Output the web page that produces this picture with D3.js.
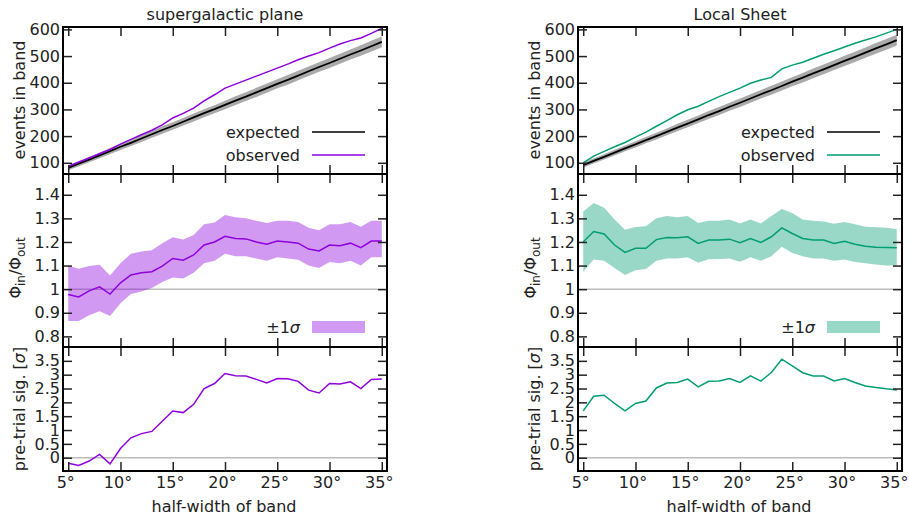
<!DOCTYPE html>
<html>
<head>
<meta charset="utf-8">
<script src="https://cdn.jsdelivr.net/npm/d3@7"></script>
<style>
  body { margin: 0; background: #fff; }
  text { font-family: "DejaVu Sans", sans-serif; fill: #222; }
</style>
</head>
<body>
<svg id="chart" width="909" height="523"></svg>
<script>
// half-width of band (degrees)
const halfWidth = [5, 6, 7, 8, 9, 10, 11, 12, 13, 14, 15, 16, 17, 18, 19, 20, 21, 22, 23, 24, 25, 26, 27, 28, 29, 30, 31, 32, 33, 34, 35];

// supergalactic plane
const sgExpected = [81, 97, 112, 128, 144, 160, 175, 191, 207, 223, 238, 254, 270, 286, 301, 317, 333, 348, 364, 380, 396, 411, 427, 443, 459, 474, 490, 506, 521, 537, 553];
const sgObserved = [87, 102, 118, 134, 150, 170, 188, 205, 222, 242, 268, 285, 305, 332, 355, 380, 395, 410, 425, 440, 455, 470, 486, 500, 513, 530, 545, 558, 568, 585, 604];
const sgRatio = [0.977, 0.967, 0.993, 1.010, 0.979, 1.027, 1.060, 1.070, 1.074, 1.098, 1.130, 1.123, 1.145, 1.187, 1.200, 1.224, 1.215, 1.213, 1.200, 1.190, 1.204, 1.200, 1.195, 1.170, 1.162, 1.187, 1.184, 1.195, 1.176, 1.204, 1.204];
const sgRatioHi = [1.099, 1.087, 1.098, 1.103, 1.058, 1.110, 1.150, 1.160, 1.165, 1.195, 1.220, 1.210, 1.230, 1.275, 1.283, 1.314, 1.305, 1.300, 1.290, 1.280, 1.290, 1.290, 1.285, 1.260, 1.250, 1.275, 1.275, 1.285, 1.265, 1.290, 1.290];
const sgRatioLo = [0.865, 0.865, 0.889, 0.907, 0.886, 0.940, 0.980, 0.990, 1.005, 1.030, 1.050, 1.045, 1.070, 1.110, 1.120, 1.150, 1.140, 1.140, 1.130, 1.120, 1.135, 1.130, 1.125, 1.100, 1.090, 1.115, 1.110, 1.120, 1.100, 1.135, 1.135];
const sgSignif = [-0.20, -0.28, -0.12, 0.12, -0.22, 0.33, 0.72, 0.87, 0.95, 1.32, 1.69, 1.63, 1.93, 2.50, 2.68, 3.04, 2.96, 2.95, 2.83, 2.70, 2.86, 2.85, 2.76, 2.44, 2.34, 2.68, 2.66, 2.74, 2.50, 2.83, 2.84];

// Local Sheet
const lsExpected = [91, 107, 122, 138, 154, 169, 185, 200, 216, 232, 247, 263, 279, 294, 310, 325, 341, 357, 372, 388, 404, 419, 435, 450, 466, 482, 497, 513, 529, 544, 560];
const lsObserved = [100, 125, 143, 160, 176, 196, 215, 237, 258, 280, 299, 312, 330, 348, 364, 380, 398, 410, 420, 452, 466, 477, 492, 507, 520, 534, 548, 560, 572, 586, 600];
const lsRatio = [1.200, 1.244, 1.234, 1.187, 1.156, 1.173, 1.173, 1.210, 1.219, 1.218, 1.222, 1.194, 1.208, 1.208, 1.212, 1.197, 1.215, 1.198, 1.222, 1.260, 1.236, 1.215, 1.208, 1.208, 1.194, 1.203, 1.190, 1.182, 1.178, 1.177, 1.175];
const lsRatioHi = [1.329, 1.365, 1.345, 1.295, 1.252, 1.263, 1.267, 1.300, 1.310, 1.305, 1.310, 1.280, 1.290, 1.290, 1.295, 1.278, 1.295, 1.278, 1.310, 1.340, 1.323, 1.295, 1.290, 1.287, 1.277, 1.285, 1.275, 1.265, 1.262, 1.260, 1.255];
const lsRatioLo = [1.074, 1.126, 1.120, 1.090, 1.060, 1.080, 1.085, 1.120, 1.130, 1.130, 1.135, 1.112, 1.127, 1.128, 1.130, 1.116, 1.135, 1.120, 1.140, 1.180, 1.153, 1.140, 1.130, 1.130, 1.120, 1.126, 1.115, 1.110, 1.105, 1.100, 1.100];
const lsSignif = [1.69, 2.22, 2.26, 1.96, 1.69, 1.96, 2.05, 2.52, 2.70, 2.72, 2.84, 2.56, 2.76, 2.77, 2.86, 2.72, 2.96, 2.77, 3.08, 3.56, 3.32, 3.07, 2.95, 2.95, 2.77, 2.86, 2.72, 2.59, 2.54, 2.49, 2.45];

// spread of the expected count (events)
const expectedSpread = [9, 10, 10, 11, 11, 12, 12, 13, 13, 14, 14, 14, 15, 15, 15, 16, 16, 16, 17, 17, 17, 18, 18, 18, 18, 19, 19, 19, 20, 20, 20];

const xTicks = [5, 10, 15, 20, 25, 30, 35];
const countTicks = [100, 200, 300, 400, 500, 600];
const ratioTicks = [0.8, 0.9, 1.0, 1.1, 1.2, 1.3, 1.4];
const signifTicks = [0, 0.5, 1, 1.5, 2, 2.5, 3, 3.5];

const svg = d3.select("#chart");
const plotWidth = 324;
const tickLen = 9;
const fontSize = 16;

const rowTop = { y0: 27, y1: 174 };
const rowMid = { y0: 174, y1: 347 };
const rowBot = { y0: 347, y1: 471 };

let drawColumn = (left, title, color, fill, expected, observed, ratio, ratioHi, ratioLo, signif) => {
  const g = svg.append("g").attr("transform", `translate(${left},0)`);

  const x = d3.scaleLinear().domain([4.5, 35.5]).range([0, plotWidth]);
  const yCount = d3.scaleLinear().domain([58, 609]).range([rowTop.y1, rowTop.y0]);
  const yRatio = d3.scaleLinear().domain([0.755, 1.488]).range([rowMid.y1, rowMid.y0]);
  const ySig = d3.scaleLinear().domain([-0.48, 4.0]).range([rowBot.y1, rowBot.y0]);

  // top: events in band
  g.append("path").
  datum(halfWidth).
  attr("fill", "#aaaaaa").
  attr("d", d3.area().
  x(d => x(d)).
  y0((d, i) => yCount(expected[i] - expectedSpread[i])).
  y1((d, i) => yCount(expected[i] + expectedSpread[i])));

  g.append("path").
  datum(halfWidth).
  attr("fill", "none").
  attr("stroke", "#000").
  attr("stroke-width", 1.8).
  attr("d", d3.line().x(d => x(d)).y((d, i) => yCount(expected[i])));

  g.append("path").
  datum(halfWidth).
  attr("fill", "none").
  attr("stroke", color).
  attr("stroke-width", 1.5).
  attr("d", d3.line().x(d => x(d)).y((d, i) => yCount(observed[i])));

  // middle: flux ratio
  g.append("line").
  attr("x1", 0).attr("x2", plotWidth).
  attr("y1", yRatio(1)).attr("y2", yRatio(1)).
  attr("stroke", "#bbbbbb").attr("stroke-width", 1.5);

  g.append("path").
  datum(halfWidth).
  attr("fill", fill).
  attr("d", d3.area().
  x(d => x(d)).
  y0((d, i) => yRatio(ratioLo[i])).
  y1((d, i) => yRatio(ratioHi[i])));

  g.append("path").
  datum(halfWidth).
  attr("fill", "none").
  attr("stroke", color).
  attr("stroke-width", 1.5).
  attr("d", d3.line().x(d => x(d)).y((d, i) => yRatio(ratio[i])));

  // bottom: significance
  g.append("line").
  attr("x1", 0).attr("x2", plotWidth).
  attr("y1", ySig(0)).attr("y2", ySig(0)).
  attr("stroke", "#bbbbbb").attr("stroke-width", 1.5);

  g.append("path").
  datum(halfWidth).
  attr("fill", "none").
  attr("stroke", color).
  attr("stroke-width", 1.5).
  attr("d", d3.line().x(d => x(d)).y((d, i) => ySig(signif[i])));

  // legends
  const legX = 237;
  const legLine = [249, 302];
  [["expected", "#000", 132], ["observed", color, 155]].forEach(([label, c, ly]) => {
    g.append("text").
    attr("x", legX).attr("y", ly + 6).
    attr("text-anchor", "end").
    attr("font-size", fontSize).
    text(label);
    g.append("line").
    attr("x1", legLine[0]).attr("x2", legLine[1]).
    attr("y1", ly).attr("y2", ly).
    attr("stroke", c).attr("stroke-width", 1.5);
  });

  const sigLeg = g.append("text").
  attr("x", legX).attr("y", 333).
  attr("text-anchor", "end").
  attr("font-size", fontSize);
  sigLeg.append("tspan").text("±1");
  sigLeg.append("tspan").attr("font-style", "italic").text("σ");
  g.append("rect").
  attr("x", legLine[0]).attr("y", 321).
  attr("width", legLine[1] - legLine[0]).attr("height", 12).
  attr("fill", fill);

  // frames, ticks and labels
  const rows = [
  { r: rowTop, y: yCount, ticks: countTicks, fmt: d => d },
  { r: rowMid, y: yRatio, ticks: ratioTicks, fmt: d => d3.format("~g")(d) },
  { r: rowBot, y: ySig, ticks: signifTicks, fmt: d => d3.format("~g")(d) }];


  rows.forEach((row, k) => {
    const left = g.append("g").
    call(d3.axisLeft(row.y).tickValues(row.ticks).tickFormat(row.fmt).tickSize(-tickLen).tickPadding(3));
    const right = g.append("g").
    attr("transform", `translate(${plotWidth},0)`).
    call(d3.axisRight(row.y).tickValues(row.ticks).tickFormat("").tickSize(-tickLen));
    const top = g.append("g").
    attr("transform", `translate(0,${row.r.y0})`).
    call(d3.axisTop(x).tickValues(xTicks).tickFormat("").tickSize(-tickLen));
    const bottom = g.append("g").
    attr("transform", `translate(0,${row.r.y1})`).
    call(d3.axisBottom(x).tickValues(xTicks).tickFormat(k === 2 ? d => d + "°" : "").tickSize(-tickLen).tickPadding(6));

    [left, right, top, bottom].forEach(ax => {
      ax.select(".domain").remove();
      ax.selectAll(".tick line").attr("stroke", "#222").attr("stroke-width", 1.5);
      ax.selectAll(".tick text").
      attr("font-size", fontSize).
      attr("font-family", "DejaVu Sans, sans-serif").
      attr("fill", "#222");
    });
    bottom.selectAll(".tick text").attr("dx", -3);

    g.append("rect").
    attr("x", 0).attr("y", row.r.y0).
    attr("width", plotWidth).attr("height", row.r.y1 - row.r.y0).
    attr("fill", "none").
    attr("stroke", "#000").
    attr("stroke-width", 2);
  });

  // titles
  g.append("text").
  attr("x", plotWidth / 2).attr("y", 20).
  attr("text-anchor", "middle").
  attr("font-size", fontSize).
  text(title);

  g.append("text").
  attr("x", plotWidth / 2 - 1).attr("y", 512).
  attr("text-anchor", "middle").
  attr("font-size", fontSize).
  text("half-width of band");

  // y labels
  const labelX = -44;
  g.append("text").
  attr("transform", `translate(${labelX},100) rotate(-90)`).
  attr("text-anchor", "middle").
  attr("dy", "0.35em").
  attr("font-size", fontSize).
  text("events in band");

  const phi = g.append("text").
  attr("transform", `translate(${labelX - 1},268) rotate(-90)`).
  attr("text-anchor", "middle").
  attr("dy", "0.2em").
  attr("font-size", fontSize);
  phi.append("tspan").text("Φ");
  phi.append("tspan").attr("font-size", 12).attr("dy", 4).text("in");
  phi.append("tspan").attr("dy", -4).text("/Φ");
  phi.append("tspan").attr("font-size", 12).attr("dy", 4).text("out");

  const sig = g.append("text").
  attr("transform", `translate(${labelX},409) rotate(-90)`).
  attr("text-anchor", "middle").
  attr("dy", "0.35em").
  attr("font-size", fontSize);
  sig.append("tspan").text("pre-trial sig. [");
  sig.append("tspan").attr("font-style", "italic").text("σ");
  sig.append("tspan").text("]");
};

drawColumn(63, "supergalactic plane", "#8f00df", "rgba(143, 0, 223, 0.4)",
sgExpected, sgObserved, sgRatio, sgRatioHi, sgRatioLo, sgSignif);
drawColumn(578, "Local Sheet", "#009e73", "rgba(0, 158, 115, 0.4)",
lsExpected, lsObserved, lsRatio, lsRatioHi, lsRatioLo, lsSignif);
</script>
</body>
</html>
